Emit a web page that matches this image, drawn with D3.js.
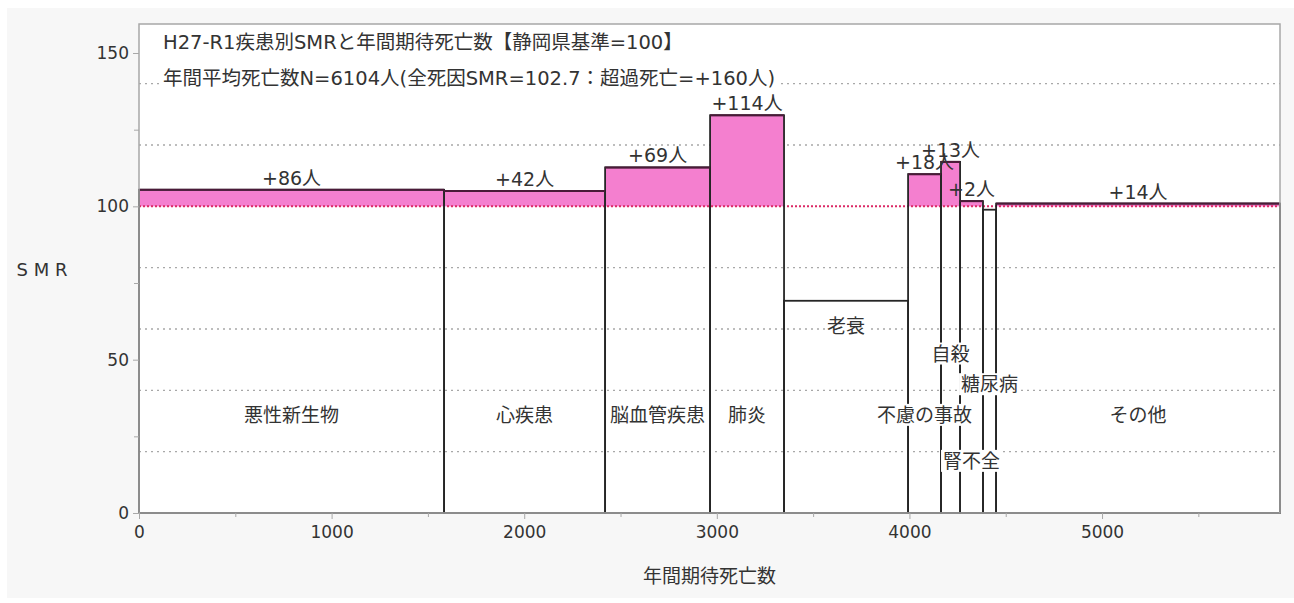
<!DOCTYPE html>
<html><head><meta charset="utf-8">
<script src="https://cdn.jsdelivr.net/npm/d3@7"></script>
<style>
html,body{margin:0;padding:0;background:#fff;}
svg{display:block;font-family:"DejaVu Sans","Noto Sans CJK JP",sans-serif;}
</style></head>
<body><svg id="c" width="1294" height="603"></svg>
<script>
// ---- data ----
const categories = ['悪性新生物','心疾患','脳血管疾患','肺炎','老衰','不慮の事故','自殺','腎不全','糖尿病','その他'];
const expectedDeaths = [1584, 836, 545, 384, 644, 171, 99, 119, 68, 1474];
const smrValues = [105.4, 105.0, 112.7, 129.7, 69.2, 110.5, 114.5, 101.7, 98.9, 100.9];
const excessLabels = ['+86人','+42人','+69人','+114人','','+18人','+13人','+2人','','+14人'];
const yTicks = [0, 50, 100, 150];
const yMinorTicks = [25, 75, 125];
const yGrid = [20, 40, 60, 80, 120, 140];
const xTicks = [0, 1000, 2000, 3000, 4000, 5000];
const xMinorTicks = [500, 1500, 2500, 3500, 4500, 5500];
const titleLines = ['H27-R1疾患別SMRと年間期待死亡数【静岡県基準=100】', '年間平均死亡数N=6104人(全死因SMR=102.7：超過死亡=+160人)'];
const yAxisTitle = 'S M R';
const xAxisTitle = '年間期待死亡数';
const baseline = 100;

// ---- layout ----
const labelLevels = [32, 32, 32, 32, 61, 32, 52, 17, 42, 32];
const L = 139, R = 1280, T = 24, B = 513;
const TXT = '#333';
const svg = d3.select('#c');
const total = d3.sum(expectedDeaths);
const x = d3.scaleLinear().domain([0, total]).range([L, R]);
const y = d3.scaleLinear().domain([0, 150]).range([B, 53]);

let cum = 0;
const bars = categories.map((c, i) => { const b = {name: c, x0: cum, x1: cum + expectedDeaths[i], smr: smrValues[i], ex: excessLabels[i], lv: labelLevels[i]}; cum += expectedDeaths[i]; return b; });

svg.append('rect').attr('x', 7).attr('y', 8).attr('width', 1287).attr('height', 590).attr('fill', '#f7f7f7');
svg.append('rect').attr('x', L).attr('y', T).attr('width', R - L).attr('height', B - T).attr('fill', '#fff');

// grid
svg.append('g').selectAll('line').data(yGrid).join('line')
  .attr('x1', L).attr('x2', R).attr('y1', d => y(d)).attr('y2', d => y(d))
  .attr('stroke', '#a8a8a8').attr('stroke-width', 1.3).attr('stroke-dasharray', '2,4');

// pink excess fill
svg.append('g').selectAll('rect').data(bars.filter(b => b.smr > baseline)).join('rect')
  .attr('x', b => x(b.x0)).attr('width', b => x(b.x1) - x(b.x0))
  .attr('y', b => y(b.smr)).attr('height', b => y(baseline) - y(b.smr))
  .attr('fill', '#f47fcf');

// baseline red dotted
svg.append('line').attr('x1', L).attr('x2', R).attr('y1', y(baseline)).attr('y2', y(baseline))
  .attr('stroke', '#dc2a66').attr('stroke-width', 2).attr('stroke-dasharray', '2,2');

// outlines
svg.append('g').selectAll('rect').data(bars).join('rect')
  .attr('x', b => x(b.x0)).attr('width', b => x(b.x1) - x(b.x0))
  .attr('y', b => y(b.smr)).attr('height', b => y(0) - y(b.smr))
  .attr('fill', 'none').attr('stroke', '#262626').attr('stroke-width', 1.8);
// darker maroon top edges
svg.append('g').selectAll('line').data(bars.filter(b => b.smr > baseline)).join('line')
  .attr('x1', b => x(b.x0)).attr('x2', b => x(b.x1)).attr('y1', b => y(b.smr)).attr('y2', b => y(b.smr))
  .attr('stroke', '#4a1a38').attr('stroke-width', 2);

// category labels with white background
const lab = svg.append('g').attr('font-size', 19).attr('fill', TXT);
bars.forEach(b => {
  const cx = (x(b.x0) + x(b.x1)) / 2, cy = y(b.lv);
  const t = lab.append('text').attr('x', cx).attr('y', cy).attr('text-anchor', 'middle').attr('dominant-baseline', 'central').text(b.name);
  const bb = t.node().getBBox();
  lab.insert('rect', 'text').attr('x', bb.x - 2).attr('y', bb.y).attr('width', bb.width + 4).attr('height', bb.height).attr('fill', '#fff');
});
// excess labels
svg.append('g').selectAll('text').data(bars.filter(b => b.ex)).join('text')
  .attr('x', b => (x(b.x0) + x(b.x1)) / 2).attr('y', b => y(b.smr) - 5)
  .attr('text-anchor', 'middle').attr('font-size', 19).attr('fill', TXT).text(b => b.ex);

// titles with white background
const tg = svg.append('g').attr('font-size', 19.5).attr('fill', TXT);
titleLines.forEach((s, i) => {
  const t = tg.append('text').attr('x', 163).attr('y', 42 + i * 36).attr('dominant-baseline', 'central').text(s);
  const bb = t.node().getBBox();
  tg.insert('rect', 'text').attr('x', bb.x - 4).attr('y', bb.y + 1).attr('width', bb.width + 8).attr('height', bb.height - 2).attr('fill', '#fff');
});

// frame
svg.append('rect').attr('x', L).attr('y', T).attr('width', R - L).attr('height', B - T)
  .attr('fill', 'none').attr('stroke', '#a8a8a8').attr('stroke-width', 1.5);

// axes
const yAxis = d3.axisLeft(y).tickValues(yTicks).tickSize(6).tickPadding(4);
const gy = svg.append('g').attr('transform', `translate(${L},0)`).call(yAxis);
gy.select('.domain').remove();
gy.selectAll('line').attr('stroke', '#a8a8a8');
gy.selectAll('text').attr('font-size', 17).attr('fill', TXT).style('font-family', '"DejaVu Sans"');
svg.append('g').attr('transform', `translate(${L},0)`).call(d3.axisLeft(y).tickValues(yMinorTicks).tickSize(5).tickFormat(''))
  .call(g => g.select('.domain').remove()).selectAll('line').attr('stroke', '#a8a8a8');

const xAxis = d3.axisBottom(x).tickValues(xTicks).tickSize(6).tickPadding(7).tickFormat(d3.format('d'));
const gx = svg.append('g').attr('transform', `translate(0,${B})`).call(xAxis);
gx.select('.domain').remove();
gx.selectAll('line').attr('stroke', '#a8a8a8');
gx.selectAll('text').attr('font-size', 17).attr('fill', TXT).style('font-family', '"DejaVu Sans"');
svg.append('g').attr('transform', `translate(0,${B})`).call(d3.axisBottom(x).tickValues(xMinorTicks).tickSize(4).tickFormat(''))
  .call(g => g.select('.domain').remove()).selectAll('line').attr('stroke', '#a8a8a8');

svg.append('text').attr('x', 42).attr('y', 269).attr('text-anchor', 'middle').attr('dominant-baseline', 'central')
  .attr('font-size', 18).attr('fill', TXT).text(yAxisTitle);
svg.append('text').attr('x', (L + R) / 2).attr('y', 576).attr('text-anchor', 'middle').attr('dominant-baseline', 'central')
  .attr('font-size', 19).attr('fill', TXT).text(xAxisTitle);
</script></body></html>
